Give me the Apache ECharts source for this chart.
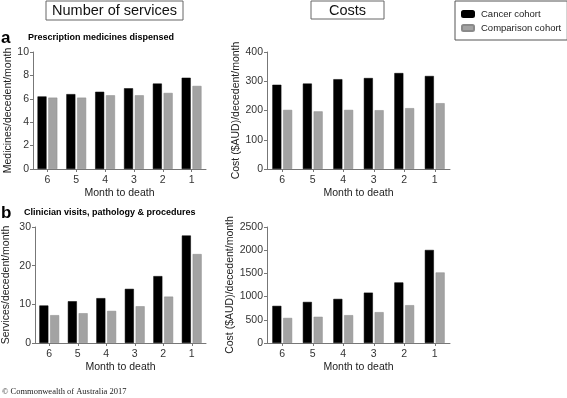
<!DOCTYPE html>
<html>
<head>
<meta charset="utf-8">
<script src="https://cdn.jsdelivr.net/npm/echarts@6/dist/echarts.min.js"></script>
<style>
  html, body { margin: 0; padding: 0; background: #fff; }
  #chart { width: 567px; height: 398px; }
</style>
</head>
<body>
<div id="chart"></div>
<script>
const months = ['6', '5', '4', '3', '2', '1']
// a: prescription medicines
const medsCancer = [6.2, 6.4, 6.6, 6.9, 7.3, 7.8]
const medsComparison = [6.1, 6.1, 6.3, 6.3, 6.5, 7.1]
const medsCostCancer = [288, 292, 307, 311, 328, 318]
const medsCostComparison = [202, 197, 202, 201, 208, 225]
// b: clinician visits, pathology & procedures
const visitsCancer = [9.7, 10.8, 11.6, 14.0, 17.3, 27.8]
const visitsComparison = [7.2, 7.7, 8.3, 9.5, 12.0, 23.0]
const visitsCostCancer = [800, 885, 950, 1085, 1305, 2005]
const visitsCostComparison = [540, 565, 600, 665, 815, 1520]

const FONT = 'Liberation Sans'
const chart = echarts.init(document.getElementById('chart'))

const grids = [
  { left: 33, right: 361, top: 52, bottom: 229 },
  { left: 267, right: 117, top: 52, bottom: 229 },
  { left: 33, right: 361, top: 227, bottom: 55 },
  { left: 267, right: 117, top: 227, bottom: 55 }
]
const yNames = ['Medicines/decedent/month', 'Cost ($AUD)/decedent/month',
  'Services/decedent/month', 'Cost ($AUD)/decedent/month']
const yMax = [10, 400, 30, 2500]
const yStep = [2, 100, 10, 500]
const yGap = [17, 22, 23, 22]
const cancerData = [medsCancer, medsCostCancer, visitsCancer, visitsCostCancer]
const compData = [medsComparison, medsCostComparison, visitsComparison, visitsCostComparison]

const axisLine = { show: true, lineStyle: { color: '#777', width: 1 } }

let xAxis = [], yAxis = [], series = []
grids.forEach((g, i) => {
  xAxis.push({
    type: 'category', gridIndex: i, data: months,
    name: 'Month to death', nameLocation: 'middle', nameGap: 19,
    nameTextStyle: { fontFamily: FONT, fontSize: 10.5, color: '#222' },
    axisLine: axisLine,
    axisTick: { show: true, alignWithLabel: true, length: 3, lineStyle: { color: '#777' } },
    axisLabel: { fontFamily: FONT, fontSize: 10.5, color: '#333', margin: 6 }
  })
  yAxis.push({
    type: 'value', gridIndex: i, min: 0, max: yMax[i], interval: yStep[i],
    name: yNames[i], nameLocation: 'middle', nameGap: yGap[i], nameRotate: 90,
    nameTextStyle: { fontFamily: FONT, fontSize: 10.5, color: '#222' },
    axisLine: axisLine,
    axisTick: { show: true, length: 3, lineStyle: { color: '#777' } },
    splitLine: { show: false },
    axisLabel: { fontFamily: FONT, fontSize: 10.5, color: '#333', margin: 4, formatter: v => String(v) }
  })
  series.push({
    name: 'Cancer cohort', type: 'bar', xAxisIndex: i, yAxisIndex: i,
    data: cancerData[i], barWidth: 9, barGap: '20%',
    itemStyle: { color: '#000', borderColor: '#000', borderWidth: 0.5 }
  })
  series.push({
    name: 'Comparison cohort', type: 'bar', xAxisIndex: i, yAxisIndex: i,
    data: compData[i], barWidth: 9, barGap: '20%',
    itemStyle: { color: '#a3a3a3', borderColor: '#8a8a8a', borderWidth: 0.5 }
  })
})

let option = {
  animation: false,
  backgroundColor: '#fff',
  grid: grids,
  xAxis: xAxis,
  yAxis: yAxis,
  series: series,
  legend: {
    data: ['Cancer cohort', 'Comparison cohort'],
    orient: 'vertical',
    left: 455, top: 1,
    padding: [8, 6, 7, 6],
    itemGap: 4,
    itemWidth: 12, itemHeight: 6,
    borderColor: '#555', borderWidth: 1,
    textStyle: { fontFamily: FONT, fontSize: 9.5, color: '#222', padding: [0, 0, 0, 2] }
  },
  graphic: [
    { type: 'rect', shape: { x: 46, y: 1, width: 137, height: 19 },
      style: { fill: '#fff', stroke: '#666', lineWidth: 1 } },
    { type: 'text', x: 114.5, y: 11,
      style: { text: 'Number of services', fontFamily: FONT, fontSize: 14.5, fill: '#111', align: 'center', verticalAlign: 'middle' } },
    { type: 'rect', shape: { x: 311, y: 1, width: 73, height: 18 },
      style: { fill: '#fff', stroke: '#666', lineWidth: 1 } },
    { type: 'text', x: 347.5, y: 10.5,
      style: { text: 'Costs', fontFamily: FONT, fontSize: 14.5, fill: '#111', align: 'center', verticalAlign: 'middle' } },
    { type: 'text', x: 1, y: 38,
      style: { text: 'a', fontFamily: FONT, fontSize: 17, fontWeight: 'bold', fill: '#000', verticalAlign: 'middle' } },
    { type: 'text', x: 28, y: 38,
      style: { text: 'Prescription medicines dispensed', fontFamily: FONT, fontSize: 9, fontWeight: 'bold', fill: '#000', verticalAlign: 'middle' } },
    { type: 'text', x: 1, y: 213,
      style: { text: 'b', fontFamily: FONT, fontSize: 17, fontWeight: 'bold', fill: '#000', verticalAlign: 'middle' } },
    { type: 'text', x: 24, y: 213,
      style: { text: 'Clinician visits, pathology & procedures', fontFamily: FONT, fontSize: 9, fontWeight: 'bold', fill: '#000', verticalAlign: 'middle' } },
    { type: 'text', x: 2, y: 392,
      style: { text: '© Commonwealth of Australia 2017', fontFamily: 'Liberation Serif', fontSize: 8.5, fill: '#222', verticalAlign: 'middle' } }
  ]
}
chart.setOption(option)
</script>
</body>
</html>
